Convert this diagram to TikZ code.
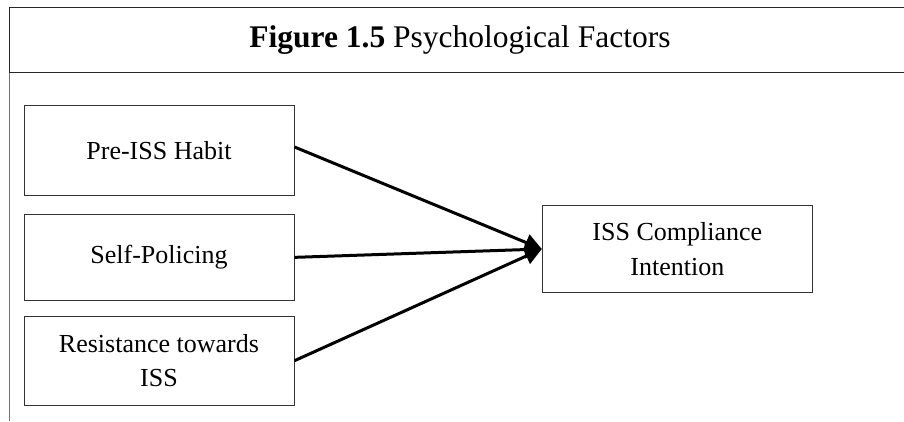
\documentclass[tikz,border=0pt]{standalone}
\usepackage{fontspec}
\setmainfont{Liberation Serif}
\usetikzlibrary{arrows.meta}

\tikzset{
  factor/.style={draw=black!80, line width=1pt, minimum width=270pt, inner sep=0pt,
                 align=center, font=\fontsize{26}{34.5}\selectfont},
  link/.style={line width=3pt, -{Triangle[length=17pt,width=17pt]}},
  frameline/.style={draw=black!85, line width=1.2pt},
}

\begin{document}
\begin{tikzpicture}[x=1pt, y=-1pt]
  \useasboundingbox (0,0) rectangle (904,421);

  % caption frame
  \coordinate (tl) at (9.5,7.5);
  \coordinate (tr) at (904,7.5);
  \coordinate (ml) at (9.5,72.5);
  \coordinate (mr) at (904,72.5);
  \coordinate (bl) at (9.5,421);
  \draw[frameline] (tr) -- (tl) -- (ml) -- (mr);
  \draw[draw=black!55, line width=1.6pt] (ml) -- (bl);

  \node[anchor=base, font=\fontsize{31.5}{36}\selectfont] (title) at (460,47.3)
    {\textbf{Figure 1.5} Psychological Factors};

  % factor boxes
  \node[factor, minimum height=89.6pt] (habit)  at (159,150.5) {Pre-ISS Habit};
  \node[factor, minimum height=86.7pt] (police) at (159,257.35) {Self-Policing};
  \node[factor, minimum height=89.3pt] (resist) at (159,360.7) {Resistance towards\\ISS};
  \node[factor, minimum height=86.6pt] (intent) at (677.3,249) {ISS Compliance\\Intention};

  % influences
  \draw[link] ([yshift=3.5pt]habit.east) -- (intent.west);
  \draw[link] (police.east) -- (intent.west);
  \draw[link] (resist.east) -- (intent.west);
\end{tikzpicture}
\end{document}
